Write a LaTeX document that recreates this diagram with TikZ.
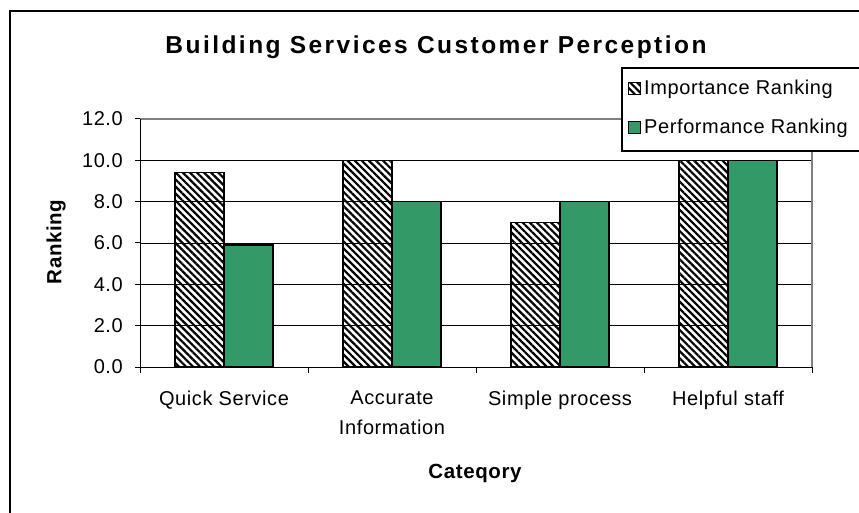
\documentclass[tikz,border=0pt]{standalone}
\usepackage{fontspec}
\setmainfont{Liberation Sans}
\newfontfamily\chartfont[LetterSpace=3]{Liberation Sans}
\newfontfamily\headfont[LetterSpace=10]{Liberation Sans}
\usetikzlibrary{patterns.meta}
\definecolor{barGreen}{HTML}{339966}
\definecolor{frameGray}{HTML}{808080}

\begin{document}
\begin{tikzpicture}[x=1pt,y=-1pt,
  hatchbar/.style={draw=black, line width=1.3pt,
    pattern={Lines[angle=-45,distance=5pt,line width=2.2pt]}},
  greenbar/.style={draw=black, line width=1.3pt, fill=barGreen},
  gridline/.style={line width=0.9pt},
  ticklbl/.style={font=\chartfont\fontsize{20}{30}\selectfont, inner sep=0pt},
  axistitle/.style={font=\chartfont\bfseries\fontsize{20.5}{24}\selectfont, inner sep=0pt}]
\useasboundingbox (0,0) rectangle (859,513);
\clip (0,0) rectangle (859,513);

%% chart frame and title
\draw[line width=1.3pt] (10,11) rectangle (900,560);
\node[font=\headfont\bfseries\fontsize{24.5}{28}\selectfont, inner sep=0pt, anchor=base]
  (title) at (436,54) {Building Services Customer Perception};

%% plot area, one unit = one category across, one ranking point up
\begin{scope}[shift={(140,367)}, x=168pt, y=20.67pt]
  % gridlines
  \foreach \v in {2,4,...,10}
    \draw[gridline] (0,\v) -- (4,\v);
  \draw[frameGray, line width=1.4pt] (0,12) -- (4,12) -- (4,0);
  % axes and ticks
  \draw[line width=1pt] (0,12) -- (0,0) -- (4,0);
  \foreach \v in {0,2,...,12} {
    \draw[line width=1pt] (0,\v) -- ++(-5pt,0);
    \node[ticklbl, anchor=east, xshift=-17pt] (ylbl\v) at (0,\v) {\v.0};
  }
  \foreach \i in {0,...,4}
    \draw[line width=1pt] (\i,0) -- ++(0,-6pt);

  % bars
  \draw[hatchbar] (0.2083,0) rectangle (0.5,9.4);
  \draw[greenbar] (0.5,0) rectangle (0.7917,5.9);
  \draw[hatchbar] (1.2083,0) rectangle (1.5,10);
  \draw[greenbar] (1.5,0) rectangle (1.7917,8);
  \draw[hatchbar] (2.2083,0) rectangle (2.5,7);
  \draw[greenbar] (2.5,0) rectangle (2.7917,8);
  \draw[hatchbar] (3.2083,0) rectangle (3.5,10);
  \draw[greenbar] (3.5,0) rectangle (3.7917,10);

  % category labels
  \node[ticklbl, anchor=north, yshift=-24pt] (cat1) at (0.5,0) {Quick Service};
  \node[ticklbl, anchor=north, yshift=-24pt, align=center] (cat2) at (1.5,0) {Accurate\\Information};
  \node[ticklbl, anchor=north, yshift=-24pt] (cat3) at (2.5,0) {Simple process};
  \node[ticklbl, anchor=north, yshift=-24pt] (cat4) at (3.5,0) {Helpful staff};
\end{scope}

%% axis titles
\node[axistitle, rotate=90] (ytitle) at (56,242) {Ranking};
\node[axistitle, anchor=base] (xtitle) at (475,478) {Cateqory};

%% legend
\draw[line width=1.3pt, fill=white] (622,68) rectangle (900,151);
\draw[hatchbar, line width=1pt] (628,83) rectangle (640,95);
\node[ticklbl, anchor=west] (leg1) at (644,89) {Importance Ranking};
\draw[greenbar, line width=1pt] (628,122) rectangle (640,134);
\node[ticklbl, anchor=west] (leg2) at (644,128) {Performance Ranking};
\end{tikzpicture}
\end{document}
